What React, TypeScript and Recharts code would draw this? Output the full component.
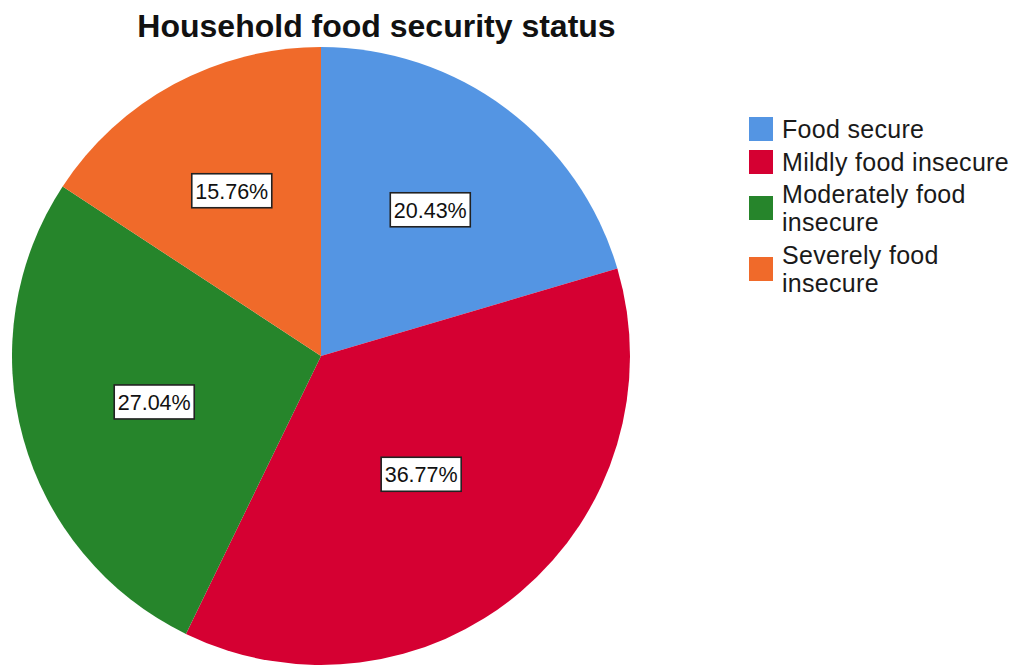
import React from 'react';
import { PieChart, Pie, Cell, Legend } from 'recharts';

const categories = ['Food secure', 'Mildly food insecure', 'Moderately food insecure', 'Severely food insecure'];
const percentages = [20.43, 36.77, 27.04, 15.76];
const colors = ['#5495E3', '#D50032', '#26852B', '#F06A2A'];

const data = categories.map((name, i) => ({ name, value: percentages[i] }));

const FONT = '"Liberation Sans", Arial, sans-serif';
const RAD = Math.PI / 180;

const renderLabel = (props: any) => {
  const { cx, cy, midAngle, startAngle, endAngle, outerRadius, value } = props;
  const alpha = Math.abs(endAngle - startAngle) * RAD;
  const dist = ((4 * outerRadius * Math.sin(alpha / 2)) / (3 * alpha)) * 0.95;
  const x = cx + dist * Math.cos(-midAngle * RAD);
  const y = cy + dist * Math.sin(-midAngle * RAD);
  const w = 80;
  const h = 34;
  return (
    <g>
      <rect x={x - w / 2} y={y - h / 2} width={w} height={h} fill="#ffffff" stroke="#222222" strokeWidth={1.6} />
      <text
        x={x}
        y={y + 1}
        textAnchor="middle"
        dominantBaseline="central"
        fontSize={21.5}
        fill="#111111"
        fontFamily={FONT}
      >
        {Number(value).toFixed(2)}%
      </text>
    </g>
  );
};

const renderLegend = (props: any) => {
  const payload: any[] = props && props.payload && props.payload.length ? props.payload : categories.map((c, i) => ({ value: c, color: colors[i] }));
  return (
    <div style={{ fontFamily: FONT, fontSize: 25, color: '#1a1a1a', letterSpacing: 0.3 }}>
      {payload.map((p: any, i: number) => (
        <div key={i} style={{ display: 'flex', alignItems: 'center', marginBottom: 4.5 }}>
          <div style={{ width: 24, height: 24, background: p.color || colors[i], flexShrink: 0, marginRight: 9 }} />
          <div style={{ width: 235, lineHeight: '28px' }}>{p.value}</div>
        </div>
      ))}
    </div>
  );
};

export default function App() {
  return (
    <div style={{ position: 'absolute', left: 0, top: 0, width: 1019, height: 666, background: '#ffffff' }}>
      <div
        style={{
          position: 'absolute',
          left: 0,
          top: 10,
          width: 753,
          textAlign: 'center',
          fontFamily: FONT,
          fontWeight: 'bold',
          fontSize: 32,
          lineHeight: '32px',
          color: '#111111',
          zIndex: 2,
        }}
      >
        Household food security status
      </div>
      <PieChart width={1019} height={666} margin={{ top: 0, right: 0, bottom: 0, left: 0 }}>
        <Pie
          data={data}
          dataKey="value"
          nameKey="name"
          cx={321}
          cy={356}
          outerRadius={309}
          startAngle={90}
          endAngle={-270}
          stroke="none"
          label={renderLabel}
          labelLine={false}
          isAnimationActive={false}
        >
          {data.map((d, i) => (
            <Cell key={d.name} fill={colors[i]} />
          ))}
        </Pie>
        <Legend
          layout="vertical"
          align="right"
          verticalAlign="top"
          content={renderLegend}
          wrapperStyle={{ left: 749, top: 115, width: 270 }}
        />
      </PieChart>
    </div>
  );
}
